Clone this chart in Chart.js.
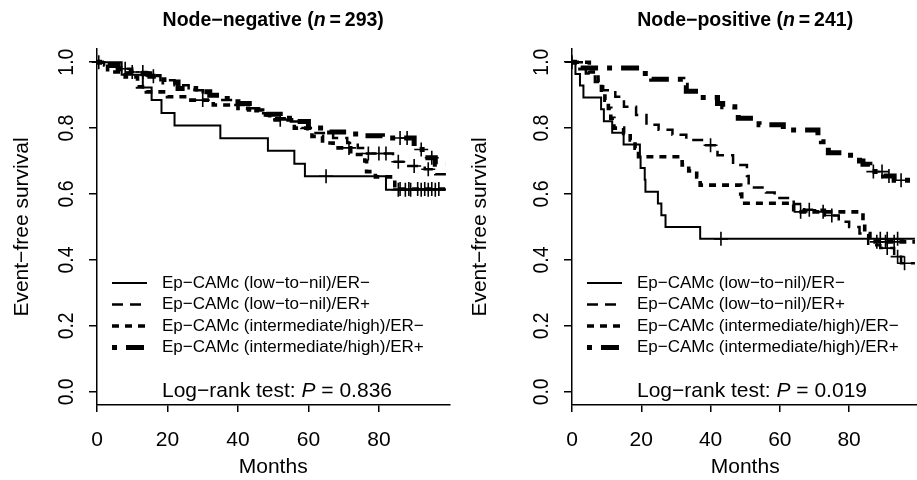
<!DOCTYPE html>
<html><head><meta charset="utf-8">
<script src="https://cdn.jsdelivr.net/npm/chart.js@4/dist/chart.umd.min.js"></script>
<style>
html,body{margin:0;padding:0;background:#fff;overflow:hidden;width:917px;height:480px;position:relative}
#c1{position:absolute;left:0;top:0}
#c2{position:absolute;left:458px;top:0}
</style></head><body>
<canvas id="c1" width="458" height="480"></canvas>
<canvas id="c2" width="469" height="480"></canvas>
<script>
// ---------- DATA ----------
const seriesLabels = [
  'Ep\u2212CAMc (low\u2212to\u2212nil)/ER\u2212',
  'Ep\u2212CAMc (low\u2212to\u2212nil)/ER+',
  'Ep\u2212CAMc (intermediate/high)/ER\u2212',
  'Ep\u2212CAMc (intermediate/high)/ER+'
];
const xTickValues = [0, 20, 40, 60, 80];
const yTickValues = [0.0, 0.2, 0.4, 0.6, 0.8, 1.0];
const xAxisTitle = 'Months';
const yAxisTitle = 'Event\u2212free survival';

// Node-negative panel
const negTitle = 'Node\u2212negative';
const negN = 293;
const negP = '0.836';
const negT1 = [0, 7, 13, 15.5, 18.3, 22, 35, 48.5, 56, 59, 82, 99];
const negS1 = [1, 0.962, 0.923, 0.885, 0.846, 0.808, 0.769, 0.731, 0.692, 0.654, 0.613, 0.613];
const negC1 = [65, 85.5, 87.5, 89, 92, 94, 96];
const negT2 = [0, 2, 6, 10, 14, 18, 22, 26, 30, 34, 38, 42, 46, 50, 54, 58, 62, 67, 71, 74, 76, 84, 88, 93, 96, 99];
const negS2 = [1, 0.99, 0.98, 0.97, 0.96, 0.945, 0.93, 0.915, 0.90, 0.885, 0.87, 0.86, 0.845, 0.83, 0.82, 0.80, 0.785, 0.77, 0.755, 0.74, 0.723, 0.698, 0.685, 0.675, 0.66, 0.66];
const negC2 = [8, 13, 77, 80, 82, 85.5, 90, 94];
const negT3 = [0, 3, 8, 11.5, 14, 20, 26, 33, 40, 43, 47, 49, 56, 61, 64, 67, 72, 76, 76.5, 79, 84.5, 99];
const negS3 = [1, 0.97, 0.955, 0.925, 0.91, 0.895, 0.885, 0.87, 0.86, 0.855, 0.84, 0.825, 0.80, 0.775, 0.755, 0.74, 0.72, 0.70, 0.668, 0.652, 0.615, 0.615];
const negC3 = [30, 52, 71.5, 86, 88.5, 91, 93, 95, 97];
const negT4 = [0, 3, 6, 9, 12, 15, 19, 23, 28, 32, 36, 40, 44, 48, 52, 56, 60, 66, 71, 75, 81, 90, 93, 96, 99];
const negS4 = [1, 0.99, 0.98, 0.97, 0.965, 0.957, 0.94, 0.92, 0.91, 0.9, 0.89, 0.875, 0.855, 0.842, 0.83, 0.82, 0.80, 0.788, 0.782, 0.777, 0.77, 0.735, 0.71, 0.69, 0.69];
const negC4 = [0.5, 10, 16, 86, 88, 92, 95];

// Node-positive panel
const posTitle = 'Node\u2212positive';
const posN = 241;
const posP = '0.019';
const posT1 = [0, 1, 2.3, 3.3, 8.4, 9.2, 11.6, 14.9, 19.6, 19.8, 21, 21.2, 24.8, 25.8, 27, 37, 99];
const posS1 = [1, 0.964, 0.929, 0.893, 0.857, 0.821, 0.786, 0.75, 0.714, 0.679, 0.643, 0.607, 0.571, 0.536, 0.50, 0.464, 0.464];
const posC1 = [43, 89, 91, 94];
const posT2 = [0, 4, 6.6, 9, 12.5, 15, 18.5, 21.5, 25, 29, 33, 38, 42, 46.5, 50.5, 51, 56, 58.5, 64, 67, 73, 77, 80, 83, 85.5, 89, 93, 95, 99];
const posS2 = [1, 0.966, 0.94, 0.915, 0.895, 0.865, 0.84, 0.81, 0.795, 0.78, 0.764, 0.748, 0.718, 0.688, 0.655, 0.62, 0.605, 0.588, 0.57, 0.552, 0.535, 0.516, 0.50, 0.48, 0.445, 0.436, 0.41, 0.39, 0.39];
const posC2 = [40, 68.5, 75, 91, 94, 96];
const posT3 = [0, 5, 7.5, 8.5, 9.5, 10.5, 11.2, 12.1, 14.9, 16.8, 18.2, 19.2, 31.8, 33.7, 36, 37, 48.7, 49, 64, 84, 84.5, 86, 99];
const posS3 = [1, 0.97, 0.945, 0.915, 0.885, 0.86, 0.83, 0.80, 0.784, 0.764, 0.739, 0.713, 0.688, 0.67, 0.652, 0.627, 0.60, 0.572, 0.546, 0.515, 0.48, 0.455, 0.455];
const posC3 = [66, 72.5, 88, 90.5, 93];
const posT4 = [0, 1.5, 2.5, 20, 23, 32, 33, 37, 42, 43.5, 47, 48, 54, 61, 71, 72, 74, 79, 83, 84, 86, 90, 93, 99];
const posS4 = [1, 0.99, 0.982, 0.966, 0.948, 0.93, 0.912, 0.893, 0.875, 0.865, 0.848, 0.83, 0.81, 0.794, 0.776, 0.759, 0.725, 0.718, 0.70, 0.69, 0.668, 0.655, 0.642, 0.642];
const posC4 = [0, 87, 89.5, 91.5, 95];

// ---------- STYLE ----------
const FONT = '"Liberation Sans", Arial, Helvetica, sans-serif';
const lineStyles = [
  {w: 2, dash: []},
  {w: 2.5, dash: [11, 7]},
  {w: 3.6, dash: [7, 6]},
  {w: 5, dash: [5, 9, 18, 9]}
];

function survAt(T, S, t) {
  let s = S[0];
  for (let i = 0; i < T.length; i++) if (T[i] <= t) s = S[i];
  return s;
}

function buildDatasets(Ts, Ss, Cs) {
  const ds = [];
  Ts.forEach((T, k) => {
    const S = Ss[k];
    ds.push({
      label: seriesLabels[k],
      data: T.map((t, i) => ({x: t, y: S[i]})),
      stepped: 'before',
      borderColor: '#000',
      borderWidth: lineStyles[k].w,
      borderDash: lineStyles[k].dash,
      borderCapStyle: 'butt',
      pointRadius: 0,
      fill: false,
      order: 4 - k
    });
  });
  Ts.forEach((T, k) => {
    ds.push({
      label: seriesLabels[k] + ' censored',
      data: Cs[k].map(t => ({x: t, y: survAt(T, Ss[k], t)})),
      showLine: false,
      pointStyle: 'cross',
      pointRadius: 7,
      pointBorderWidth: 1.6,
      pointBorderColor: '#000',
      borderColor: '#000',
      clip: false,
      order: 0
    });
  });
  return ds;
}

function drawPieces(ctx, pieces, x, y, align, baseline) {
  ctx.textBaseline = baseline;
  ctx.textAlign = 'left';
  let total = 0;
  pieces.forEach(p => { ctx.font = p.f; total += ctx.measureText(p.t).width; });
  let cx = align === 'center' ? x - total / 2 : x;
  pieces.forEach(p => { ctx.font = p.f; ctx.fillText(p.t, cx, y); cx += ctx.measureText(p.t).width; });
}

const annot = {
  id: 'annot',
  afterDraw(chart, args, opts) {
    const {ctx, chartArea: a, scales} = chart;
    const ys = scales.y;
    ctx.save();
    ctx.fillStyle = '#000';
    // rotated y tick labels
    ys.ticks.forEach(t => {
      const py = ys.getPixelForValue(t.value);
      ctx.save();
      ctx.translate(a.left - 24.5, py);
      ctx.rotate(-Math.PI / 2);
      ctx.scale(0.88, 1);
      ctx.font = '22px ' + FONT;
      ctx.textAlign = 'center';
      ctx.textBaseline = 'alphabetic';
      ctx.fillText(t.value.toFixed(1), 0, 0);
      ctx.restore();
    });
    // panel title
    const cxm = (a.left + a.right) / 2;
    drawPieces(ctx, [
      {t: opts.title + ' (', f: 'bold 19.5px ' + FONT},
      {t: 'n', f: 'italic bold 19.5px ' + FONT},
      {t: '\u2009=\u2009' + opts.n + ')', f: 'bold 19.5px ' + FONT}
    ], cxm, 21, 'center', 'middle');
    // legend
    const rows = [283, 304.5, 326, 347.5];
    chart.data.datasets.slice(0, 4).forEach((d, i) => {
      const y = rows[i];
      ctx.save();
      ctx.strokeStyle = '#000';
      ctx.lineWidth = d.borderWidth;
      ctx.setLineDash(d.borderDash);
      ctx.lineCap = 'butt';
      ctx.beginPath();
      ctx.moveTo(a.left + 15, y);
      ctx.lineTo(a.left + 50, y);
      ctx.stroke();
      ctx.restore();
      ctx.font = '17px ' + FONT;
      ctx.textAlign = 'left';
      ctx.textBaseline = 'middle';
      ctx.fillText(d.label, a.left + 65, y);
    });
    // log-rank text
    drawPieces(ctx, [
      {t: 'Log\u2212rank test: ', f: '21px ' + FONT},
      {t: 'P', f: 'italic 21px ' + FONT},
      {t: ' = ' + opts.p, f: '21px ' + FONT}
    ], a.left + 65, 397, 'left', 'alphabetic');
    ctx.restore();
  }
};

function makeChart(id, Ts, Ss, Cs, yWidth, padRight, title, n, p) {
  return new Chart(document.getElementById(id), {
    type: 'line',
    data: {datasets: buildDatasets(Ts, Ss, Cs)},
    plugins: [annot],
    options: {
      responsive: false,
      animation: false,
      devicePixelRatio: 1,
      layout: {padding: {top: 49, left: 0, right: padRight, bottom: 0}},
      plugins: {
        legend: {display: false},
        title: {display: false},
        tooltip: {enabled: false},
        annot: {title: title, n: n, p: p}
      },
      scales: {
        x: {
          type: 'linear', min: 0, max: 100,
          afterBuildTicks: s => { s.ticks = xTickValues.map(v => ({value: v})); },
          afterFit: s => { s.height = 75; },
          grid: {display: true, drawOnChartArea: false, drawTicks: true, tickLength: 7, color: '#000', lineWidth: 1.5},
          border: {display: true, color: '#000', width: 1.5},
          ticks: {color: '#000', font: {family: FONT, size: 21}, padding: 16, maxRotation: 0, autoSkip: false,
                  callback: v => String(v)},
          title: {display: true, text: xAxisTitle, color: '#000', font: {family: FONT, size: 21}, padding: {top: 0, bottom: 0}}
        },
        y: {
          type: 'linear', min: -0.04, max: 1.04,
          afterBuildTicks: s => { s.ticks = yTickValues.map(v => ({value: v})); },
          afterFit: s => { s.width = yWidth; },
          grid: {display: true, drawOnChartArea: false, drawTicks: true, tickLength: 8, color: '#000', lineWidth: 1.5},
          border: {display: true, color: '#000', width: 1.5},
          ticks: {display: false},
          title: {display: true, text: yAxisTitle, color: '#000', font: {family: FONT, size: 21}, padding: {top: 10, bottom: 0}}
        }
      }
    }
  });
}

makeChart('c1', [negT1, negT2, negT3, negT4], [negS1, negS2, negS3, negS4], [negC1, negC2, negC3, negC4], 97, 6, negTitle, negN, negP);
makeChart('c2', [posT1, posT2, posT3, posT4], [posS1, posS2, posS3, posS4], [posC1, posC2, posC3, posC4], 114, 0, posTitle, posN, posP);
</script>
</body></html>
